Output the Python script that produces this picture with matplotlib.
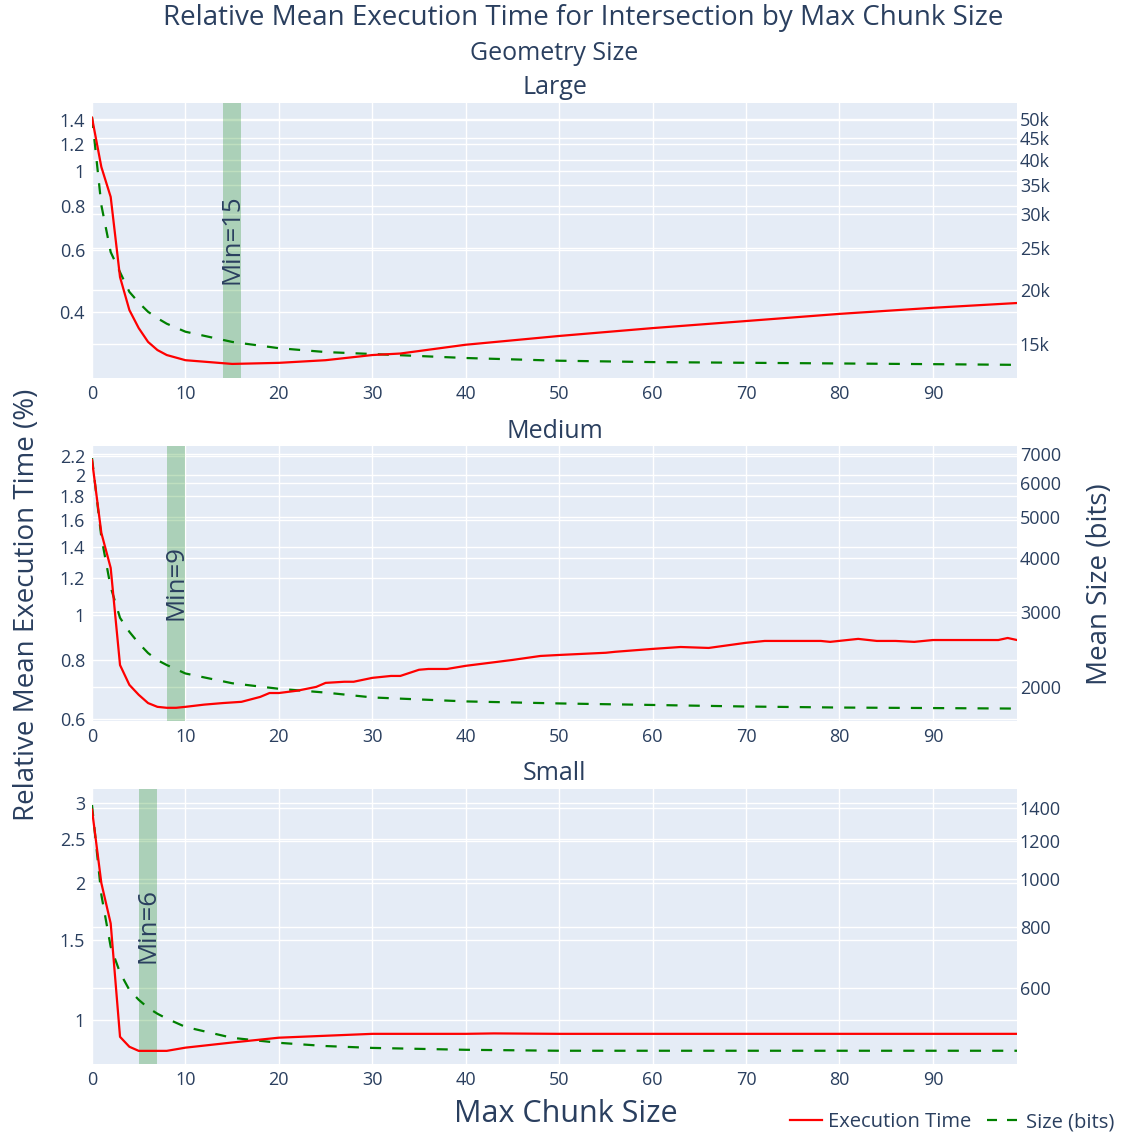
import numpy as np
import matplotlib.pyplot as plt
from matplotlib.ticker import NullLocator
from matplotlib.lines import Line2D

plt.rcParams['font.family'] = ['Open Sans', 'DejaVu Sans']

TXT = '#2a3f5f'
BG = '#e5ecf6'

panels = ['Large', 'Medium', 'Small']
min_chunk = [15, 9, 6]

# execution time (relative, %)
large_time_x = [0, 1, 2, 3, 4, 5, 6, 7, 8, 10, 15, 20, 25, 30, 33, 40, 50, 60, 70, 80, 90, 99]
large_time = [1.42, 1.03, 0.847, 0.502, 0.405, 0.360, 0.329, 0.312, 0.302, 0.292, 0.285, 0.287,
              0.292, 0.302, 0.305, 0.323, 0.342, 0.360, 0.377, 0.395, 0.411, 0.424]
medium_time_x = [0, 1, 2, 3, 4, 5, 6, 7, 8, 9, 10, 12, 14, 16, 18, 19, 20, 22, 24, 25, 27, 28, 30,
                 32, 33, 35, 36, 38, 40, 45, 48, 50, 55, 56, 60, 63, 66, 70, 72, 78, 79, 82, 84,
                 86, 88, 90, 97, 98, 99]
medium_time = [2.155, 1.503, 1.264, 0.782, 0.709, 0.675, 0.648, 0.636, 0.633, 0.633, 0.636, 0.643,
               0.648, 0.652, 0.668, 0.681, 0.681, 0.689, 0.702, 0.716, 0.720, 0.720, 0.734, 0.741,
               0.741, 0.764, 0.767, 0.767, 0.779, 0.802, 0.818, 0.822, 0.831, 0.835, 0.847, 0.855,
               0.851, 0.873, 0.881, 0.881, 0.877, 0.890, 0.881, 0.881, 0.877, 0.885, 0.885, 0.894,
               0.885]
small_time_x = [0, 1, 2, 3, 4, 5, 6, 7, 8, 10, 15, 20, 25, 30, 40, 43, 50, 60, 70, 80, 90, 99]
small_time = [2.90, 2.0, 1.63, 0.918, 0.873, 0.855, 0.855, 0.855, 0.855, 0.869, 0.892, 0.914,
              0.923, 0.932, 0.932, 0.934, 0.932, 0.932, 0.932, 0.932, 0.932, 0.932]

# mean size (bits)
large_size_x = [0, 1, 2, 3, 4, 5, 6, 7, 8, 10, 15, 20, 25, 30, 40, 50, 60, 70, 80, 90, 99]
large_size = [50500, 31500, 24500, 22000, 19800, 18700, 17800, 17200, 16700, 16000, 15150, 14650,
              14350, 14200, 13900, 13700, 13600, 13550, 13500, 13450, 13400]
medium_size_x = [0, 1, 2, 3, 4, 5, 6, 7, 8, 9, 10, 15, 20, 25, 30, 40, 50, 60, 70, 80, 90, 99]
medium_size = [6850, 4480, 3420, 2900, 2690, 2530, 2400, 2310, 2250, 2200, 2150, 2040, 1980, 1940,
               1890, 1850, 1830, 1815, 1800, 1790, 1785, 1780]
small_size_x = [0, 1, 2, 3, 4, 5, 6, 7, 8, 10, 15, 20, 25, 30, 40, 50, 60, 70, 80, 90, 99]
small_size = [1420, 930, 728, 644, 594, 567, 546, 531, 519, 499, 474, 463, 456, 452, 448, 446, 446,
              446, 446, 446, 446]

time_x = [large_time_x, medium_time_x, small_time_x]
time_y = [large_time, medium_time, small_time]
size_x = [large_size_x, medium_size_x, small_size_x]
size_y = [large_size, medium_size, small_size]

left_ticks = [[0.4, 0.6, 0.8, 1, 1.2, 1.4],
              [0.6, 0.8, 1, 1.2, 1.4, 1.6, 1.8, 2, 2.2],
              [1, 1.5, 2, 2.5, 3]]
left_labels = [['0.4', '0.6', '0.8', '1', '1.2', '1.4'],
               ['0.6', '0.8', '1', '1.2', '1.4', '1.6', '1.8', '2', '2.2'],
               ['1', '1.5', '2', '2.5', '3']]
right_ticks = [[15000, 20000, 25000, 30000, 35000, 40000, 45000, 50000],
               [2000, 3000, 4000, 5000, 6000, 7000],
               [600, 800, 1000, 1200, 1400]]
right_labels = [['15k', '20k', '25k', '30k', '35k', '40k', '45k', '50k'],
                ['2000', '3000', '4000', '5000', '6000', '7000'],
                ['600', '800', '1000', '1200', '1400']]
left_lim = [(0.260, 1.563), (0.593, 2.31), (0.80, 3.22)]
right_lim = [(12490, 54400), (1665, 7310), (419, 1531)]
label_y = [0.34, 0.367, 0.367]

W, H = 1128, 1133
fig = plt.figure(figsize=(W / 100, H / 100), dpi=100)

tops = [103, 446, 789]
ph = 275
for i in range(3):
    ax = fig.add_axes([92 / W, 1 - (tops[i] + ph) / H, 925 / W, ph / H])
    ax.set_facecolor(BG)
    ax2 = ax.twinx()
    for a in (ax, ax2):
        for s in a.spines.values():
            s.set_visible(False)
        a.set_yscale('log')
        a.set_axisbelow(True)
    ax.set_xlim(0, 99)
    ax.set_ylim(*left_lim[i])
    ax2.set_ylim(*right_lim[i])
    ax.set_xticks(range(0, 100, 10))
    ax.set_yticks(left_ticks[i])
    ax.set_yticklabels(left_labels[i])
    ax2.set_yticks(right_ticks[i])
    ax2.set_yticklabels(right_labels[i])
    for a in (ax, ax2):
        a.yaxis.set_minor_locator(NullLocator())
        a.grid(True, color='white', linewidth=1.0)
        a.tick_params(length=0, labelsize=13, labelcolor=TXT)
    ax.tick_params(axis='x', pad=5)
    ax.tick_params(axis='y', pad=5)
    ax2.tick_params(axis='y', pad=2)
    ax2.grid(True, axis='y', color='white', linewidth=1.0)
    ax2.grid(False, axis='x')

    ax2.axvspan(min_chunk[i] - 1, min_chunk[i] + 1, color='green', alpha=0.25, lw=0, zorder=1)
    ax2.plot(size_x[i], size_y[i], color='green', lw=1.6, ls=(0, (5, 5)), zorder=2)
    ax2.plot(time_x[i], time_y[i], color='red', lw=1.6, zorder=3, transform=ax.transData)
    ax2.set_ylim(*right_lim[i])
    ax2.text(min_chunk[i], label_y[i], 'Min=%d' % min_chunk[i], rotation=90, ha='center',
             va='bottom', fontsize=18.5, color=TXT, transform=ax.get_xaxis_transform(), zorder=4)
    ax.text(0.5, 1 + 15 / ph, panels[i], ha='center', va='center', fontsize=18, color=TXT,
            transform=ax.transAxes)

fig.text(583 / W, 1 - 18 / H, 'Relative Mean Execution Time for Intersection by Max Chunk Size',
         ha='center', va='center', fontsize=20, color=TXT)
fig.text(554 / W, 1 - 53 / H, 'Geometry Size', ha='center', va='center', fontsize=18, color=TXT)
fig.text(27 / W, 1 - 605 / H, 'Relative Mean Execution Time (%)', rotation=90, ha='center',
         va='center', fontsize=20, color=TXT)
fig.text(1100 / W, 1 - 584 / H, 'Mean Size (bits)', rotation=90, ha='center', va='center',
         fontsize=20, color=TXT)
fig.text(566 / W, 1 - 1114 / H, 'Max Chunk Size', ha='center', va='center', fontsize=22, color=TXT)

handles = [Line2D([], [], color='red', lw=1.6),
           Line2D([], [], color='green', lw=1.6, ls=(0, (4.5, 4.5)))]
leg = fig.legend(handles, ['Execution Time', 'Size (bits)'], loc='lower right',
                 bbox_to_anchor=(1.0, -0.012), ncol=2, frameon=False, fontsize=14.5,
                 handlelength=1.6, handletextpad=0.3, columnspacing=0.8, borderaxespad=0.3)
for t in leg.get_texts():
    t.set_color(TXT)

fig.savefig('out.png', dpi=100)
